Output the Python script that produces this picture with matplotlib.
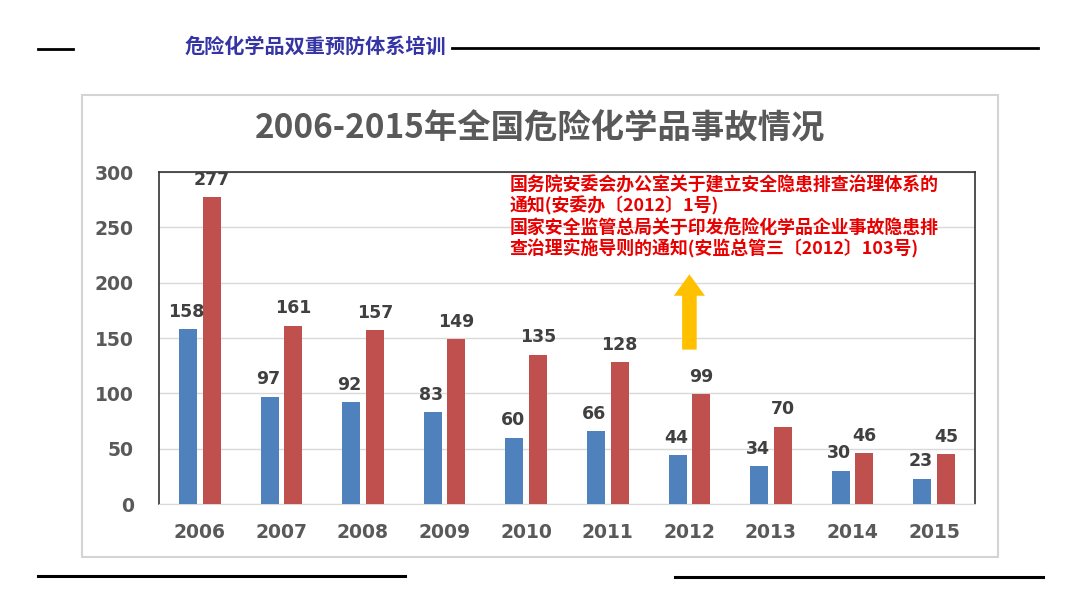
import matplotlib
matplotlib.use("Agg")
import matplotlib.pyplot as plt
from matplotlib.lines import Line2D
from matplotlib.patches import Rectangle
import numpy as np

plt.rcParams['font.family'] = ['Noto Sans CJK SC', 'DejaVu Sans']

years = ['2006', '2007', '2008', '2009', '2010', '2011', '2012', '2013', '2014', '2015']
series_a = [158, 97, 92, 83, 60, 66, 44, 34, 30, 23]
series_b = [277, 161, 157, 149, 135, 128, 99, 70, 46, 45]
yticks = [0, 50, 100, 150, 200, 250, 300]
header = '危险化学品双重预防体系培训'
title = '2006-2015年全国危险化学品事故情况'
note_lines = ['国务院安委会办公室关于建立安全隐患排查治理体系的',
              '通知(安委办〔2012〕1号)',
              '国家安全监管总局关于印发危险化学品企业事故隐患排',
              '查治理实施导则的通知(安监总管三〔2012〕103号)']
arrow_year_index = 6
arrow_from, arrow_to = 137, 210

W, H = 1080, 608
fig = plt.figure(figsize=(W/100, H/100), dpi=100)
fig.patch.set_facecolor('white')

def fx(px): return px / W
def fy(py): return 1 - py / H

# header lines and text
fig.add_artist(Line2D([fx(38), fx(73)], [fy(49), fy(49)], color='black', lw=2))
fig.add_artist(Line2D([fx(452), fx(1038)], [fy(48), fy(48)], color='black', lw=2))
fig.text(fx(185), fy(46), header, color='#3434a4', fontsize=14.5, fontweight='bold',
         ha='left', va='center')
fig.add_artist(Line2D([fx(38), fx(405)], [fy(576), fy(576)], color='black', lw=2.2))
fig.add_artist(Line2D([fx(675), fx(1043)], [fy(577), fy(577)], color='black', lw=2.2))

# chart frame
fig.add_artist(Rectangle((fx(82), fy(557)), fx(998) - fx(82), fy(95) - fy(557),
                         transform=fig.transFigure, fill=False, edgecolor='#d4d4d4', lw=1.5))
fig.text(fx(540), fy(129), title, color='#595959', fontsize=24, fontweight='bold',
         ha='center', va='center')

ax = fig.add_axes([fx(159), fy(504), fx(975) - fx(159), fy(172) - fy(504)])
x = np.arange(len(years))
bw = 0.22
off = 0.145
ax.bar(x - off, series_a, width=bw, color='#4f81bd', zorder=3)
ax.bar(x + off, series_b, width=bw, color='#c0504d', zorder=3)

for xi, v in zip(x, series_a):
    ax.annotate(str(v), (xi - off - 0.02, v), xytext=(0, 6), textcoords='offset points',
                ha='center', va='bottom', fontsize=12.5, fontweight='bold', color='#404040',
                family='DejaVu Sans', zorder=4)
for xi, v in zip(x, series_b):
    ax.annotate(str(v), (xi + off, v), xytext=(0, 6), textcoords='offset points',
                ha='center', va='bottom', fontsize=12.5, fontweight='bold', color='#404040',
                family='DejaVu Sans', zorder=4)

ax.set_xlim(-0.5, len(years) - 0.5)
ax.set_ylim(0, 300)
ax.set_yticks(yticks)
ax.set_yticklabels([str(t) for t in yticks])
ax.set_xticks(x)
ax.set_xticklabels(years)
ax.grid(axis='y', color='#d9d9d9', lw=1, zorder=0)
ax.tick_params(axis='both', length=0, labelsize=13.5, labelcolor='#595959')
ax.tick_params(axis='y', pad=18)
ax.tick_params(axis='x', pad=14)
for lab in ax.get_xticklabels() + ax.get_yticklabels():
    lab.set_fontweight('bold')
    lab.set_family('DejaVu Sans')
for s in ['top', 'left', 'right']:
    ax.spines[s].set_color('#333333')
    ax.spines[s].set_linewidth(1.2)
ax.spines['bottom'].set_color('#d9d9d9')

# arrow
ax.annotate('', xy=(arrow_year_index, arrow_to), xytext=(arrow_year_index, arrow_from),
            arrowprops=dict(arrowstyle='simple,head_width=1.6,head_length=1.1,tail_width=0.75',
                            color='#ffc000', lw=0, mutation_scale=14), zorder=5)

# note text
ys = [185, 206, 228, 249]
for line, py in zip(note_lines, ys):
    fig.text(fx(510), fy(py), line, color='#e80000', fontsize=12.9, fontweight='bold',
             style='italic', ha='left', va='center')

fig.savefig('out.png', dpi=100, facecolor='white')
